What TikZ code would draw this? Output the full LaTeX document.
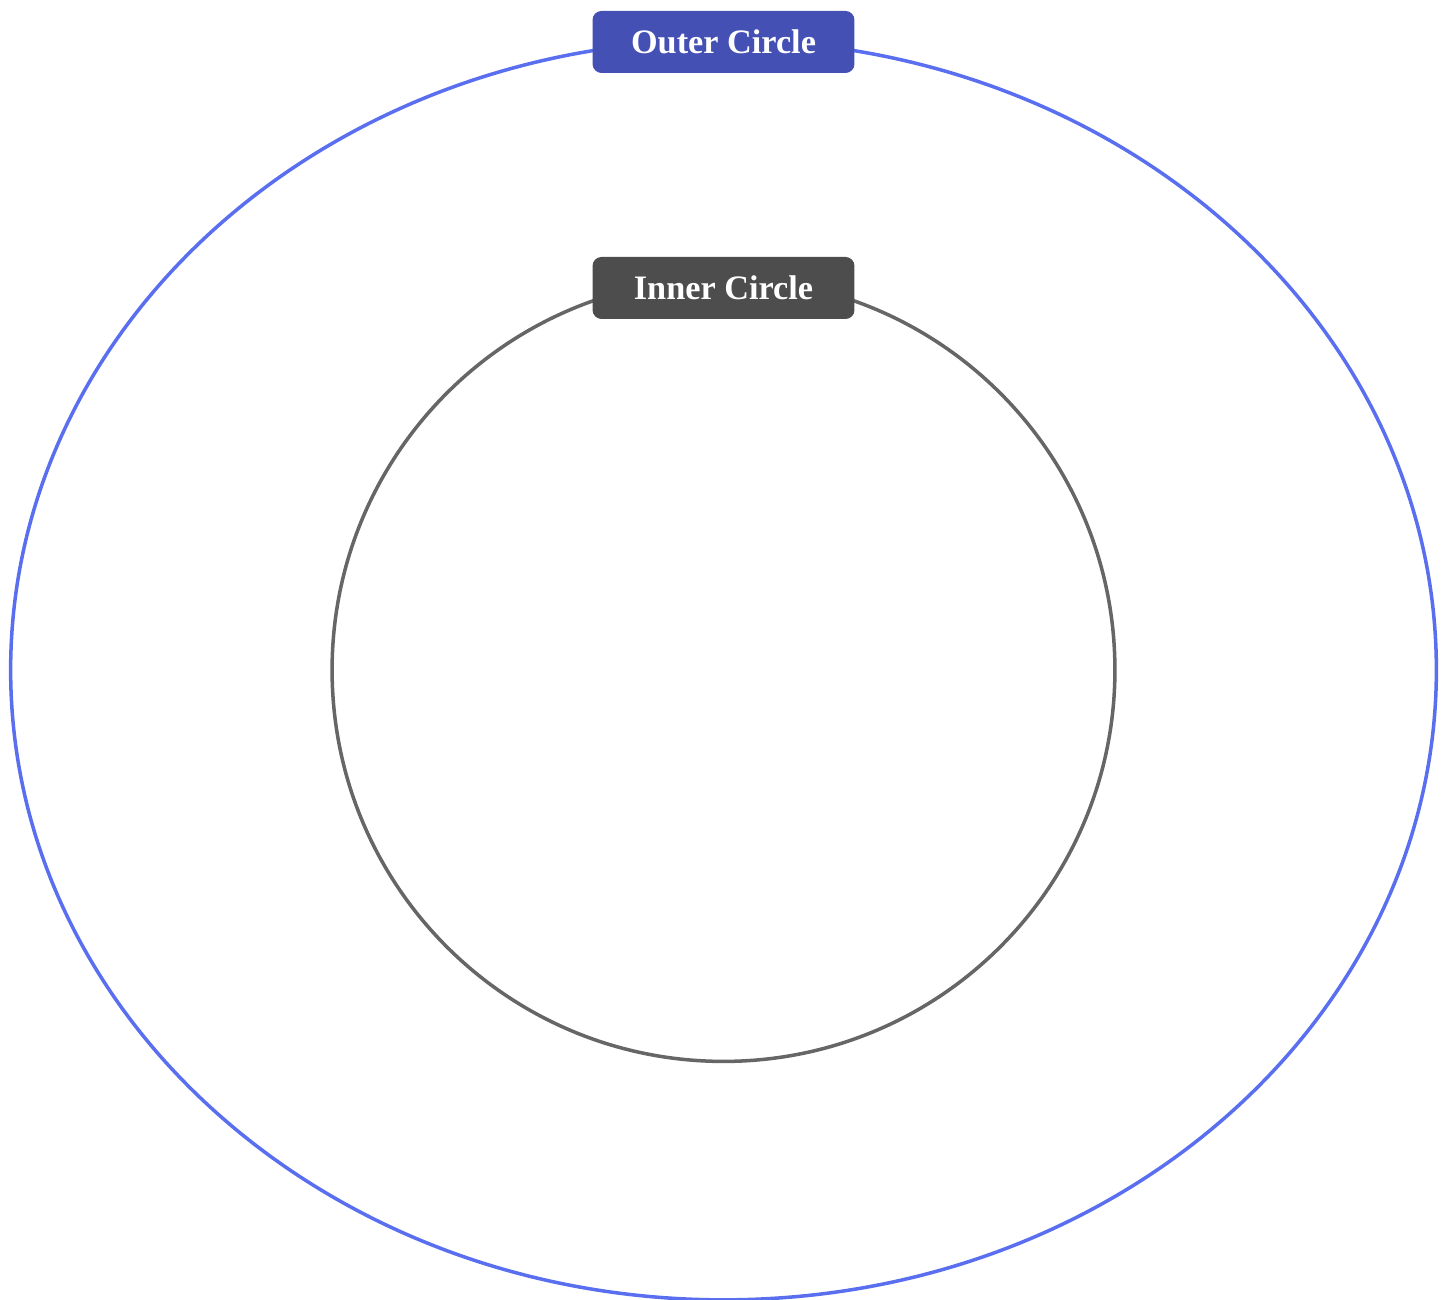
\documentclass[tikz,border=0pt]{standalone}
\usepackage{fontspec}
\setmainfont{Liberation Serif}
\usetikzlibrary{positioning}
\definecolor{outerline}{HTML}{5A6FEF}
\definecolor{outerfill}{HTML}{4550B5}
\definecolor{innerline}{HTML}{666666}
\definecolor{innerfill}{HTML}{4D4D4D}
\begin{document}
\begin{tikzpicture}[
    x=0.02cm, y=0.02cm,
    tag/.style={rounded corners=0.18cm, minimum width=5.24cm, minimum height=1.24cm, inner sep=0pt, text=white, font=\fontsize{19.5}{23}\selectfont\bfseries},
    ring/.style={line width=2pt}
]
\useasboundingbox (0,0) rectangle (1449,1300);
\coordinate (mid) at (723.5,630);
\draw[ring, draw=outerline] (mid) ellipse [x radius=14.26cm, y radius=12.6cm];
\draw[ring, draw=innerline] (mid) circle [radius=7.83cm];
\node[tag, fill=outerfill] (outer) at (723.5,1258) {Outer Circle};
\node[tag, fill=innerfill] (inner) at (723.5,1012) {Inner Circle};
\end{tikzpicture}
\end{document}
